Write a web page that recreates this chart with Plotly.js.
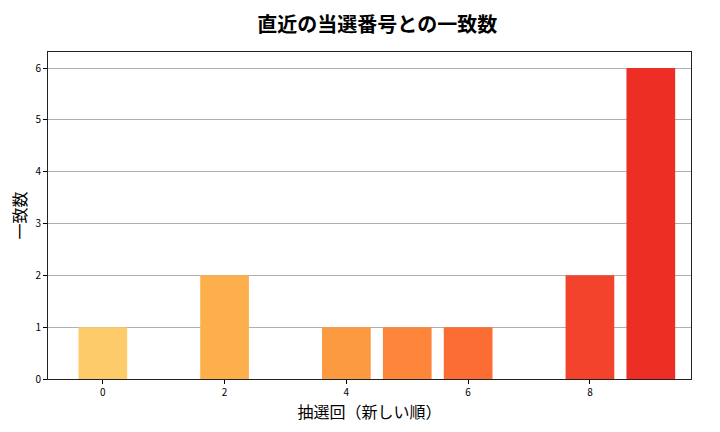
<!DOCTYPE html>
<html>
<head>
<meta charset="utf-8">
<script src="https://cdn.plot.ly/plotly-3.0.1.min.js"></script>
<style>html,body{margin:0;padding:0;background:#fff;}#chart{width:720px;height:432px;}</style>
</head>
<body>
<div id="chart"></div>
<script>
const drawIndex = [0, 1, 2, 3, 4, 5, 6, 7, 8, 9];
const matchCount = [1, 0, 2, 0, 1, 1, 1, 0, 2, 6];
const barColors = ['#FECB6A', '#FEBE5A', '#FDAF4C', '#FCA547', '#FC9A42', '#FD863A', '#FC6D33', '#F8582F', '#F3432C', '#EC2E24'];
const tickVals = [0, 2, 4, 6, 8];
const titleText = '直近の当選番号との一致数';
const xTitle = '抽選回（新しい順）';
const yTitle = '一致数';

const font = '"Noto Sans CJK JP", "Noto Sans", sans-serif';
Plotly.newPlot('chart', [{
  type: 'bar',
  x: drawIndex,
  y: matchCount,
  width: 0.8,
  marker: {color: barColors, line: {width: 0}},
  hoverinfo: 'skip'
}], {
  width: 720, height: 432,
  margin: {l: 48, r: 29, t: 52, b: 53},
  paper_bgcolor: '#fff', plot_bgcolor: '#fff',
  font: {family: font, color: '#000'},
  title: {text: titleText, font: {family: font, size: 20, color: '#000', weight: 'bold'}, x: 0.524, xanchor: 'center', y: 0.942, yanchor: 'middle'},
  xaxis: {
    range: [-0.9, 9.66], tickvals: tickVals, ticks: 'outside', ticklen: 4, tickwidth: 1, tickcolor: '#000',
    showgrid: false, zeroline: false, showline: true, linecolor: '#222', linewidth: 1, mirror: true,
    tickfont: {size: 10, family: font},
    title: {text: xTitle, font: {size: 16, family: font}, standoff: 3}
  },
  yaxis: {
    range: [0, 6.31], tickvals: [0, 1, 2, 3, 4, 5, 6], ticks: 'outside', ticklen: 4, tickwidth: 1, tickcolor: '#000',
    showgrid: true, gridcolor: '#b0b0b0', gridwidth: 1, zeroline: false,
    showline: true, linecolor: '#222', linewidth: 1, mirror: true,
    tickfont: {size: 10, family: font},
    title: {text: yTitle, font: {size: 16, family: font}, standoff: 4}
  },
  showlegend: false
}, {displayModeBar: false, staticPlot: true});
</script>
</body>
</html>
